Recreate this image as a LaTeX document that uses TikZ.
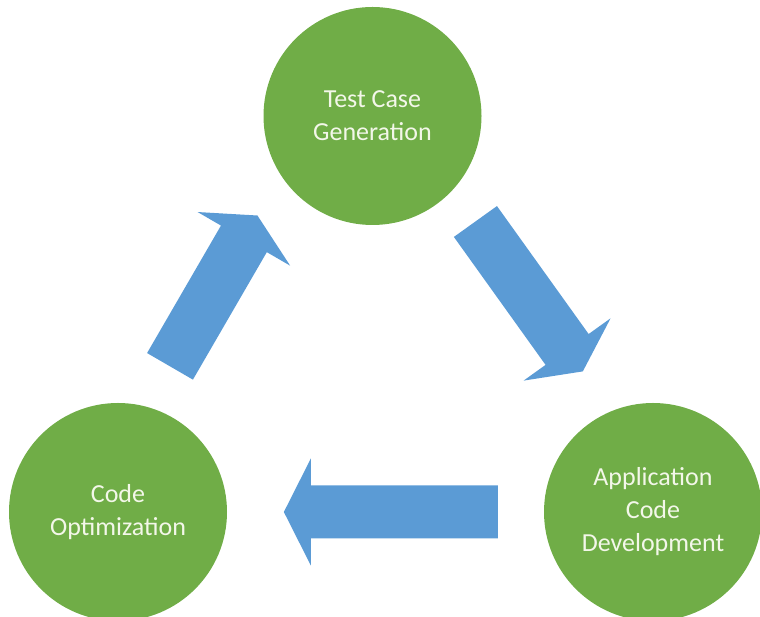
\documentclass[tikz,border=0pt]{standalone}
\usepackage{fontspec}
\setmainfont{Carlito}
\usetikzlibrary{calc}
\definecolor{stagegreen}{HTML}{70AD47}
\definecolor{flowblue}{HTML}{5B9BD5}
\definecolor{stagetext}{HTML}{F3F7E9}

\begin{document}
\begin{tikzpicture}[
  x=1pt, y=1pt,
  stage/.style={circle, fill=stagegreen, minimum size=218pt, inner sep=0pt,
                align=center, text=stagetext, font=\fontsize{26}{33}\selectfont},
  % block arrow: 53pt shaft, 107pt head, 27pt long head
  flow/.style={fill=flowblue, to path={
      ($(\tikztostart)!26.5pt!-90:(\tikztotarget)$)
      -- ($(\tikztotarget)!27pt!(\tikztostart)!26.5pt!90:(\tikztostart)$)
      -- ($(\tikztotarget)!27pt!(\tikztostart)!53.5pt!90:(\tikztostart)$)
      -- (\tikztotarget)
      -- ($(\tikztotarget)!27pt!(\tikztostart)!53.5pt!-90:(\tikztostart)$)
      -- ($(\tikztotarget)!27pt!(\tikztostart)!26.5pt!-90:(\tikztostart)$)
      -- ($(\tikztostart)!26.5pt!90:(\tikztotarget)$) -- cycle}},
]
\useasboundingbox (0,0) rectangle (760,617);

\node[stage] (tcg) at (372.5,501) {Test Case\\Generation};
\node[stage] (acd) at (653,105) {Application\\Code\\Development};
\node[stage] (cop) at (118,105) {Code\\Optimization};

% arrow ends, pushed a bit off the line between the circles
\coordinate (f1s) at ($(tcg)!0.30!(acd)!23pt!90:(acd)$);
\coordinate (f1e) at ($(tcg)!0.68!(acd)!24pt!90:(acd)$);
\coordinate (f2s) at ($(acd)!0.29!(cop)$);
\coordinate (f2e) at ($(acd)!0.69!(cop)$);
\coordinate (f3s) at ($(cop)!0.32!(tcg)!35pt!90:(tcg)$);
\coordinate (f3e) at ($(cop)!0.69!(tcg)!43pt!90:(tcg)$);

\fill[flow] (f1s) to (f1e);
\fill[flow] (f2s) to (f2e);
\fill[flow] (f3s) to (f3e);
\end{tikzpicture}
\end{document}
